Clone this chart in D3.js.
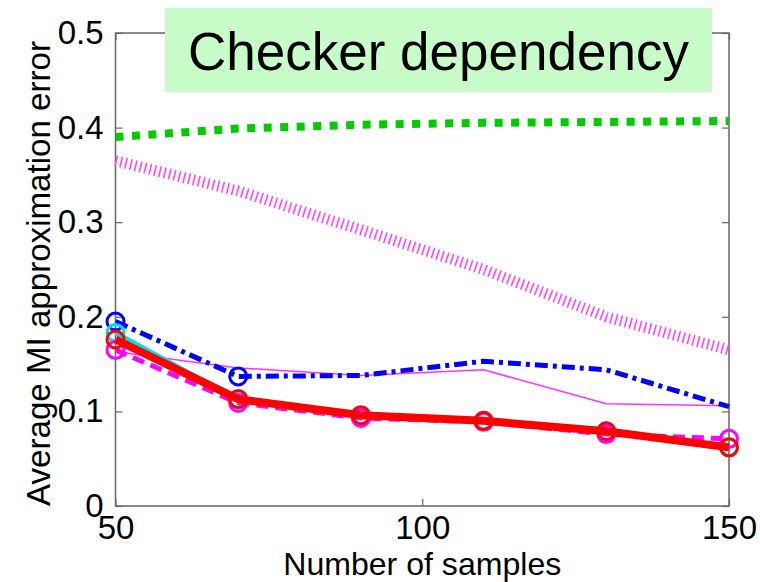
<!DOCTYPE html>
<html>
<head>
<meta charset="utf-8">
<script src="https://cdn.jsdelivr.net/npm/d3@7"></script>
<style>
  body { margin: 0; background: #fff; }
  svg { display: block; }
</style>
</head>
<body>
<div id="chart"></div>
<script>
// data
var samples = [50, 70, 90, 110, 130, 150];
var greenDotted    = [0.390, 0.399, 0.403, 0.405, 0.406, 0.407];
var magentaHatched = [0.365, 0.333, 0.292, 0.250, 0.200, 0.165];
var magentaThin    = [0.163, 0.146, 0.138, 0.144, 0.108, 0.106];
var blueDashDot    = [0.195, 0.137, 0.138, 0.153, 0.144, 0.105];
var cyanSolid      = [0.183, 0.112, 0.095, 0.090, 0.079, 0.062];
var magentaDashed  = [0.165, 0.109, 0.093, 0.089, 0.076, 0.071];
var redSolid       = [0.176, 0.113, 0.096, 0.090, 0.079, 0.062];
var blueMarked     = [50, 70];
var yTicks = [0, 0.1, 0.2, 0.3, 0.4, 0.5];
var xTicks = [50, 100, 150];
var title = "Checker dependency";

var margin = {top: 33, right: 31, bottom: 76, left: 115.5},
    width = 760 - margin.left - margin.right,
    height = 582 - margin.top - margin.bottom;

var svg = d3.select("#chart")
  .append("svg")
    .attr("width", 760)
    .attr("height", 582);
var g = svg.append("g")
    .attr("transform", "translate(" + margin.left + "," + margin.top + ")");

var x = d3.scaleLinear().domain([50, 150]).range([0, width]);
var y = d3.scaleLinear().domain([0, 0.5]).range([height, 0]);

var font = "'Liberation Sans', Arial, sans-serif";

// axes, ticks pointing inward like matlab
var axLeft = g.append("g")
    .call(d3.axisLeft(y).tickValues(yTicks).tickSize(-7).tickPadding(12)
      .tickFormat(function(d) { return d === 0 ? "0" : d3.format(".1f")(d); }));
var axBottom = g.append("g")
    .attr("transform", "translate(0," + height + ")")
    .call(d3.axisBottom(x).tickValues(xTicks).tickSize(-7).tickPadding(10));
var axRight = g.append("g")
    .attr("transform", "translate(" + width + ",0)")
    .call(d3.axisRight(y).tickValues(yTicks).tickSize(-7).tickFormat(""));
var axTop = g.append("g")
    .call(d3.axisTop(x).tickValues(xTicks).tickSize(-7).tickFormat(""));

[axLeft, axBottom, axRight, axTop].forEach(function(a) {
  a.select(".domain").remove();
  a.selectAll(".tick line").attr("stroke", "#666").attr("stroke-width", 1.2);
  a.selectAll(".tick text")
    .attr("fill", "#000")
    .style("font-family", font)
    .style("font-size", "33px");
});

g.append("rect")
    .attr("width", width)
    .attr("height", height)
    .attr("fill", "none")
    .attr("stroke", "#666")
    .attr("stroke-width", 1.5);

// series
var line = d3.line()
    .x(function(d, i) { return x(samples[i]); })
    .y(function(d) { return y(d); });

var series = [
  {vals: greenDotted,    color: "#00cc00", w: 8,   dash: "8,8.5"},
  {vals: magentaHatched, color: "#ff44ff", w: 11,  dash: "1.6,3.4"},
  {vals: magentaThin,    color: "#ff33ff", w: 1.5, dash: null},
  {vals: blueDashDot,    color: "#0000ff", w: 5,   dash: "13,5,4,5", marks: blueMarked},
  {vals: cyanSolid,      color: "#00e0e0", w: 5,   dash: null, marks: samples},
  {vals: magentaDashed,  color: "#ff00ff", w: 5,   dash: "12,7", marks: samples},
  {vals: redSolid,       color: "#ff0000", w: 8,   dash: null, marks: samples}
];

series.forEach(function(s) {
  g.append("path")
    .attr("d", line(s.vals))
    .attr("fill", "none")
    .attr("stroke", s.color)
    .attr("stroke-width", s.w)
    .attr("stroke-dasharray", s.dash)
    .attr("stroke-linejoin", "round");
  if (s.marks) {
    var pts = samples.map(function(v, i) { return [v, s.vals[i]]; })
      .filter(function(p) { return s.marks.indexOf(p[0]) >= 0; });
    g.selectAll(null)
      .data(pts)
      .enter().append("circle")
        .attr("cx", function(p) { return x(p[0]); })
        .attr("cy", function(p) { return y(p[1]); })
        .attr("r", 8.5)
        .attr("fill", "none")
        .attr("stroke", s.color)
        .attr("stroke-width", 3);
  }
});

// axis labels
svg.append("text")
    .attr("x", margin.left + width / 2)
    .attr("y", 575)
    .attr("text-anchor", "middle")
    .attr("textLength", 278)
    .attr("lengthAdjust", "spacingAndGlyphs")
    .style("font-family", font)
    .style("font-size", "32px")
    .text("Number of samples");

svg.append("text")
    .attr("transform", "translate(50," + (margin.top + height / 2 + 4) + ") rotate(-90)")
    .attr("text-anchor", "middle")
    .attr("textLength", 465)
    .attr("lengthAdjust", "spacingAndGlyphs")
    .style("font-family", font)
    .style("font-size", "33px")
    .text("Average MI approximation error");

// title box
svg.append("rect")
    .attr("x", 165)
    .attr("y", 8)
    .attr("width", 547)
    .attr("height", 84)
    .attr("fill", "#c8fcc8");
svg.append("text")
    .attr("x", 165 + 547 / 2)
    .attr("y", 70)
    .attr("text-anchor", "middle")
    .style("font-family", font)
    .style("font-size", "53px")
    .text(title);
</script>
</body>
</html>
